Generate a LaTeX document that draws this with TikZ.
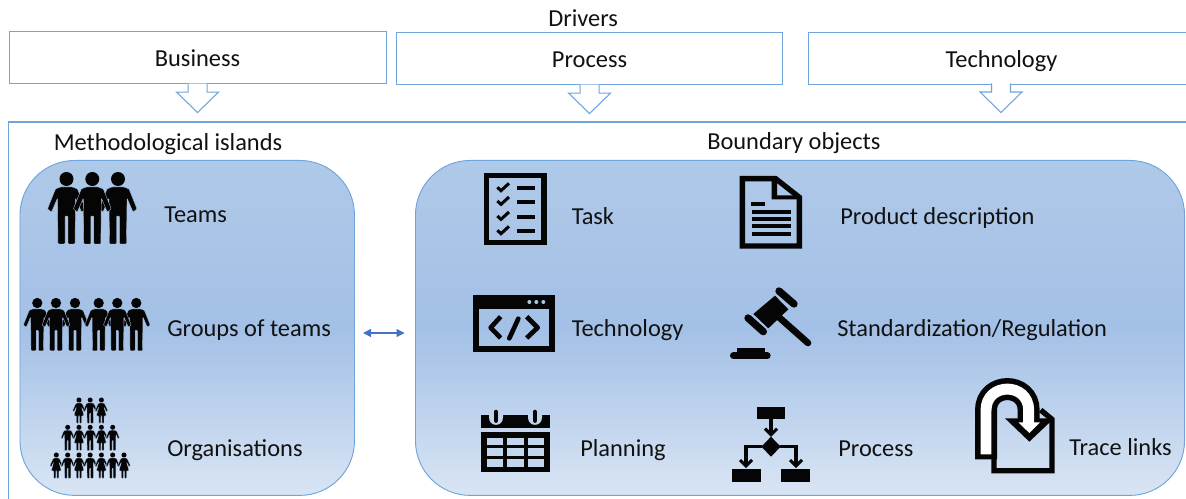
\documentclass[tikz,border=0pt]{standalone}
\usepackage{fontspec}
\setmainfont{Carlito}
\usetikzlibrary{arrows.meta,calc}
\definecolor{edgeblue}{HTML}{6FA5DB}
\definecolor{arrowblue}{HTML}{4472C4}
\definecolor{inktext}{HTML}{111111}
\definecolor{iconink}{HTML}{050505}
\definecolor{panelmid}{HTML}{A8C3E6}
\definecolor{panelbot}{HTML}{D9E5F4}
\definecolor{panelmidd}{HTML}{A3C0E6}
\definecolor{paneltop}{HTML}{AFC9E8}
\pgfdeclareverticalshading{panelshade}{100bp}{color(0bp)=(panelbot);color(25bp)=(panelbot);color(50bp)=(panelmidd);color(75bp)=(paneltop);color(100bp)=(paneltop)}
\tikzset{
  every node/.style={text=inktext,font=\fontsize{18.3}{21}\selectfont,inner sep=0pt},
  label/.style={anchor=base west},
  driverbox/.style={draw=edgeblue,line width=.8pt,fill=white,text height=13.5pt,text depth=0pt,anchor=north west,align=center},
  panel/.style={draw=edgeblue,line width=.7pt,rounded corners=41pt,shading=panelshade,anchor=north west},
  blockline/.style={draw=edgeblue,line width=.8pt,fill=white},
  inkline/.style={draw=iconink,line cap=butt},
  manbody/.style={fill=iconink,draw=panelmid,line width=.25pt,rounded corners=.6pt},
  zoomA/.style={shift={(460,160)},x=.25pt,y=-.25pt},
  zoomB/.style={shift={(460,370)},x=.25pt,y=-.25pt},
  zoomC/.style={shift={(950,360)},x=.25pt,y=-.25pt},
}
\newcommand{\manicon}[3]{\begin{scope}[shift={(#1,#2)},scale=#3]
  \fill[iconink] (0,0) circle[radius=7];
  \path[manbody] (-6,8) -- (6,8) -- (11,10) -- (19,30) -- (15,33) -- (9,19) -- (8.5,65) -- (1.5,65) -- (1.5,37) -- (-1.5,37) -- (-1.5,65) -- (-8.5,65) -- (-9,19) -- (-15,33) -- (-19,30) -- (-11,10) -- cycle;
\end{scope}}
\newcommand{\womanicon}[3]{\begin{scope}[shift={(#1,#2)},scale=#3]
  \fill[iconink] (0,0) circle[radius=7];
  \path[manbody] (-5,8) -- (5,8) -- (9,10) -- (18,30) -- (14,33) -- (7,19) -- (14,44) -- (7,44) -- (7,65) -- (1.5,65) -- (1.5,44) -- (-1.5,44) -- (-1.5,65) -- (-7,65) -- (-7,44) -- (-14,44) -- (-7,19) -- (-14,33) -- (-18,30) -- (-9,10) -- cycle;
\end{scope}}
\newcommand{\blockarrow}[1]{\path[blockline] ($(#1)+(-9.5,-.5)$) -- ++(0,8.5) -- ++(-11.5,0) -- ++(21,20.5) -- ++(21,-20.5) -- ++(-11.5,0) -- ++(0,-8.5);}
\begin{document}
\begin{tikzpicture}[x=.75pt,y=-.75pt]
\useasboundingbox (0,0) rectangle (1186,499);
% drivers
\node[label] (drivers) at (548,27) {Drivers};
\node[driverbox,minimum width=282.75pt,minimum height=39pt] (biz) at (8.5,31) {Business};
\node[driverbox,minimum width=289.5pt,minimum height=39pt] (proc) at (396,32) {Process};
\node[driverbox,minimum width=386*.75pt,minimum height=39pt] (tech) at (808,32) {Technology};
\blockarrow{biz.south}
\blockarrow{proc.south}
\coordinate (techfoot) at (1001,84);
\blockarrow{techfoot}
% frame
\coordinate (frameA) at (8.5,500);
\coordinate (frameB) at (8.5,122);
\coordinate (frameC) at (1187,122);
\draw[edgeblue,line width=.8pt] (frameA) -- (frameB) -- (frameC);
% panels
\node[panel,minimum width=250.9pt,minimum height=251.2pt] (islands) at (19.5,160) {};
\node[panel,minimum width=576.8pt,minimum height=251.2pt] (objects) at (415,160) {};
\node[label] (islandstitle) at (53.5,151) {Methodological islands};
\node[label] (objectstitle) at (707,150) {Boundary objects};
% double arrow
\coordinate (linkL) at (363,333);
\coordinate (linkR) at (404.5,333);
\draw[arrowblue,line width=.8pt,{Triangle[width=6pt,length=6pt]}-{Triangle[width=6pt,length=6pt]}] (linkL) -- (linkR);
% labels
\node[label] (lteams) at (164,223) {Teams};
\node[label] (lgroups) at (167,336.5) {Groups of teams};
\node[label] (lorgs) at (167,456.5) {Organisations};
\node[label] (ltask) at (571.5,225) {Task};
\node[label] (ltech) at (571.5,336.5) {Technology};
\node[label] (lplan) at (580,456.5) {Planning};
\node[label] (lprod) at (840,225) {Product description};
\node[label] (lstd) at (837,336.5) {Standardization/Regulation};
\node[label] (lproc) at (838,456.5) {Process};
\node[label] (ltrace) at (1069,455.5) {Trace links};
% teams
\manicon{66.5}{179}{1}\manicon{118}{179}{1}\manicon{92.3}{179}{1}
% groups
\manicon{37.3}{303}{.735}\manicon{75}{303}{.735}\manicon{56}{303}{.735}
\manicon{98.7}{303}{.735}\manicon{136.3}{303}{.735}\manicon{117.3}{303}{.735}
% organisations
\womanicon{79}{400}{.36}\manicon{90.2}{400}{.36}\womanicon{101.4}{400}{.36}
\manicon{67.7}{427.3}{.36}\womanicon{79}{427.3}{.36}\manicon{90.2}{427.3}{.36}\womanicon{101.4}{427.3}{.36}\manicon{112.7}{427.3}{.36}
\womanicon{56.3}{455}{.36}\manicon{67.7}{455}{.36}\womanicon{79}{455}{.36}\manicon{90.2}{455}{.36}\womanicon{101.4}{455}{.36}\manicon{112.7}{455}{.36}\womanicon{124}{455}{.36}
% task + document + code + gavel
\begin{scope}[zoomA]
  \draw[inkline,line width=4.1pt] (80,46) rectangle (252,248);
  \foreach \cy in {84,125,170,213}{
    \draw[inkline,line width=2.3pt] (112,\cy-2) -- (123,\cy+8) -- (147,\cy-14);
    \fill[iconink] (171,\cy-6) rectangle (225,\cy+6);
  }
  % document
  \draw[inkline,line width=4pt,miter limit=4] (847,258) -- (847,56) -- (947,56) -- (1018,112) -- (1018,258) -- cycle;
  \fill[iconink] (935,50) -- (935,118) -- (1020,118) -- (1020,106) -- (951,106) -- (951,50) -- cycle;
  \fill[iconink] (873,125) rectangle (915,138);
  \foreach \ly in {156,177,198,222}{\fill[iconink] (876,\ly-6) rectangle (993,\ly+6);}
  % code window
  \draw[inkline,line width=4.1pt] (48,413) rectangle (276,567);
  \fill[iconink] (40,405) rectangle (284,447);
  \foreach \dx in {208,229,250}{\fill[panelmid] (\dx,426) circle[radius=6];}
  \draw[inkline,line width=3.5pt,line join=round] (122,470) -- (92,503) -- (122,534);
  \draw[inkline,line width=3.5pt,line cap=round] (175,476) -- (148,535);
  \draw[inkline,line width=3.5pt,line join=round] (200,470) -- (233,503) -- (200,534);
  % gavel
  \draw[iconink,line width=5pt,line cap=round] (955,470) -- (1044,549);
  \fill[iconink] (945,407) -- (985,448) -- (925,505) -- (880,462) -- cycle;
  \draw[iconink,line width=5.5pt,line cap=round] (957,393) -- (1002,432);
  \draw[iconink,line width=5.5pt,line cap=round] (864,474) -- (910,515);
  \fill[iconink] (830,565) rectangle (915,580);
  \draw[iconink,line width=5pt,line cap=round] (820,587) -- (922,587);
\end{scope}
\begin{scope}[zoomB]
  % calendar
  \fill[iconink] (62,135) rectangle (270,175);
  \fill[iconink] (62,185) rectangle (270,307);
  \foreach \ca/\cb in {80/130,142/192,204/252}{\foreach \ra/\rb in {203/225,235/258,268/290}{\fill[panelmid!70!white] (\ca,\ra) rectangle (\cb,\rb);}}
  \foreach \cc in {108,225}{
    \fill[panelmid!70!white] (\cc-21,135) -- (\cc-21,142) .. controls (\cc-21,172) and (\cc+21,172) .. (\cc+21,142) -- (\cc+21,135) -- cycle;
    \draw[iconink,line width=3.4pt,line cap=round] (\cc,126) -- (\cc,152);
  }
  % process
  \fill[iconink] (890,110) rectangle (976,148);
  \draw[inkline,line width=2.3pt] (933,148) -- (933,190);
  \draw[inkline,line width=2.3pt] (915,176) -- (933,194) -- (951,176);
  \fill[iconink] (933,200) -- (962,230) -- (933,260) -- (904,230) -- cycle;
  \draw[inkline,line width=2.3pt] (905,230) -- (858,230) -- (858,285);
  \draw[inkline,line width=2.3pt] (961,230) -- (1008,230) -- (1008,285);
  \draw[inkline,line width=2.3pt] (840,270) -- (858,288) -- (876,270);
  \draw[inkline,line width=2.3pt] (990,270) -- (1008,288) -- (1026,270);
  \fill[iconink] (816,297) rectangle (903,335);
  \fill[iconink] (963,297) rectangle (1050,335);
\end{scope}
\begin{scope}[zoomC]
  % trace links
  \draw[inkline,line width=4pt] (132,150) -- (132,332) -- (306,332) -- (306,178) -- (272,150);
  \draw[inkline,line width=16.5pt] (108,298) -- (108,151) .. controls (108,66) and (236,66) .. (236,151) -- (236,195);
  \fill[iconink] (165,175) -- (238,245) -- (312,175) -- cycle;
  \draw[white,line width=8.2pt] (108,283) -- (108,151) .. controls (108,66) and (236,66) .. (236,151) -- (236,190);
  \fill[white] (205,187) -- (238,219) -- (270,187) -- cycle;
\end{scope}
\end{tikzpicture}
\end{document}
